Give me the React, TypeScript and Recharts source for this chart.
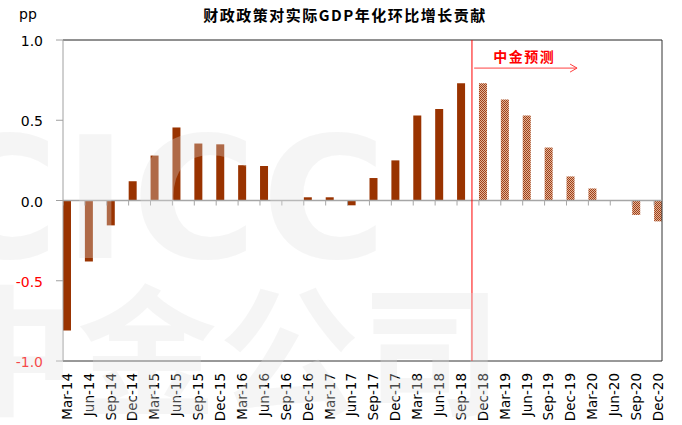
import React from 'react';
import { ComposedChart, Bar, Cell, Line, XAxis, YAxis, ReferenceLine } from 'recharts';

const quarters = [
  'Mar-14', 'Jun-14', 'Sep-14', 'Dec-14', 'Mar-15', 'Jun-15', 'Sep-15', 'Dec-15',
  'Mar-16', 'Jun-16', 'Sep-16', 'Dec-16', 'Mar-17', 'Jun-17', 'Sep-17', 'Dec-17',
  'Mar-18', 'Jun-18', 'Sep-18', 'Dec-18', 'Mar-19', 'Jun-19', 'Sep-19', 'Dec-19',
  'Mar-20', 'Jun-20', 'Sep-20', 'Dec-20',
];
// historical contribution (pp), Mar-14 .. Sep-18
const actual = [
  -0.81, -0.38, -0.155, 0.12, 0.28, 0.455, 0.355, 0.35,
  0.22, 0.215, 0, 0.02, 0.02, -0.03, 0.14, 0.25,
  0.53, 0.57, 0.73,
];
// CICC forecast (pp), Dec-18 .. Dec-20
const forecast = [0.73, 0.63, 0.53, 0.33, 0.15, 0.075, 0, -0.09, -0.13];
const yTicks = [-1, -0.5, 0, 0.5, 1];

const title = '财政政策对实际GDP年化环比增长贡献';
const unitLabel = 'pp';
const forecastLabel = '中金预测';
const watermarkLatin = 'CICC';
const watermarkCJK = '中金公司';

// annotation arrow (data coordinates)
const arrowY = 0.825;
const arrowEndX = 23.3;

const data = quarters.map((q, i) => ({
  idx: i,
  q,
  value: i < actual.length ? actual[i] : forecast[i - actual.length],
  isForecast: i >= actual.length,
  base: 0,
}));

const PAD = 0.18;
const BAR_W = 8;
const xMax = quarters.length - 1 + PAD;
const splitX = actual.length - 0.5;

const XTick = (props: any) => {
  const { x, y, payload } = props;
  return (
    <text
      x={x}
      y={y}
      transform={`rotate(-90, ${x}, ${y})`}
      textAnchor="end"
      dy="0.36em"
      fontSize={13.5}
      fontFamily="DejaVu Sans"
      fill="#000"
    >
      {quarters[payload.value]}
    </text>
  );
};

const YTick = (props: any) => {
  const { x, y, payload } = props;
  const v = payload.value as number;
  return (
    <text
      x={x}
      y={y}
      dy={6}
      textAnchor="end"
      fontSize={14}
      fontFamily="DejaVu Sans"
      fill={v < 0 ? '#ff0000' : '#000'}
    >
      {v.toFixed(1)}
    </text>
  );
};

const TickMark = (props: any) => {
  const { cx, cy, index } = props;
  return (
    <line
      key={`tm-${index}`}
      x1={cx - BAR_W / 2}
      x2={cx - BAR_W / 2}
      y1={cy}
      y2={cy + 5}
      stroke="#a6a6a6"
      strokeWidth={1}
    />
  );
};

const Arrow = (props: any) => {
  const { x1, y1, x2, y2 } = props;
  return (
    <g>
      <line x1={x1} y1={y1} x2={x2} y2={y2} stroke="#ff4040" strokeWidth={1} />
      <polyline
        points={`${x2 - 7},${y2 - 4} ${x2},${y2} ${x2 - 7},${y2 + 4}`}
        fill="none"
        stroke="#ff4040"
        strokeWidth={1}
      />
      <text
        x={x1 + 50}
        y={y1 - 6}
        textAnchor="middle"
        fontSize={14}
        fontWeight="bold"
        fontFamily="Noto Sans CJK SC"
        letterSpacing={1.5}
        fill="#ff0000"
      >
        {forecastLabel}
      </text>
    </g>
  );
};

export default function App() {
  return (
    <div style={{ position: 'absolute', left: 0, top: 0, width: 682, height: 425, background: '#fff' }}>
      <ComposedChart
        width={682}
        height={425}
        data={data}
        margin={{ top: 40, right: 20, bottom: 0, left: 8 }}
      >
        <defs>
          <pattern id="fcPattern" width="2" height="2" patternUnits="userSpaceOnUse">
            <rect width="2" height="2" fill="#e2b598" />
            <rect width="1" height="1" fill="#a0401a" />
            <rect x="1" y="1" width="1" height="1" fill="#a0401a" />
          </pattern>
        </defs>
        <XAxis
          dataKey="idx"
          type="number"
          domain={[-PAD, xMax]}
          ticks={data.map((d) => d.idx)}
          interval={0}
          axisLine={false}
          tickLine={false}
          tickSize={0}
          tickMargin={12}
          height={64}
          tick={XTick}
          allowDataOverflow
        />
        <YAxis
          domain={[-1, 1]}
          ticks={yTicks}
          width={55}
          axisLine={{ stroke: '#a0a0a0' }}
          tickLine={{ stroke: '#a0a0a0' }}
          tickSize={7}
          tickMargin={13}
          tick={YTick}
          allowDataOverflow
        />
        <ReferenceLine y={1} stroke="#222" />
        <ReferenceLine y={-1} stroke="#333" />
        <ReferenceLine x={xMax} stroke="#333" />
        <ReferenceLine y={0} stroke="#a6a6a6" strokeWidth={1.5} />
        <Bar dataKey="value" barSize={BAR_W} isAnimationActive={false}>
          {data.map((d, i) => (
            <Cell key={i} fill={d.isForecast ? 'url(#fcPattern)' : '#993300'} />
          ))}
        </Bar>
        <Line
          dataKey="base"
          stroke="none"
          dot={TickMark}
          activeDot={false}
          isAnimationActive={false}
        />
        <ReferenceLine x={splitX} stroke="#ff0000" strokeWidth={1} />
        <ReferenceLine
          segment={[
            { x: splitX + 0.1, y: arrowY },
            { x: arrowEndX, y: arrowY },
          ]}
          shape={Arrow}
        />
      </ComposedChart>
      <svg
        width={682}
        height={425}
        style={{ position: 'absolute', left: 0, top: 0, pointerEvents: 'none' }}
      >
        <g fill="rgb(225,225,225)" fillOpacity={0.32}>
          <text x={-66} y={258} fontSize={170} fontWeight="bold" fontFamily="DejaVu Sans" letterSpacing={5}>
            {watermarkLatin}
          </text>
          <text x={-65} y={404} fontSize={140} fontWeight="bold" fontFamily="Noto Sans CJK SC" letterSpacing={2}>
            {watermarkCJK}
          </text>
        </g>
        <text x={345} y={21} textAnchor="middle" fontSize={15} fontWeight="bold" fontFamily="Noto Sans CJK SC" letterSpacing={1.5} fill="#000">
          {title}
        </text>
        <text x={19} y={19} fontSize={14} fontFamily="DejaVu Sans" fill="#000">
          {unitLabel}
        </text>
      </svg>
    </div>
  );
}
